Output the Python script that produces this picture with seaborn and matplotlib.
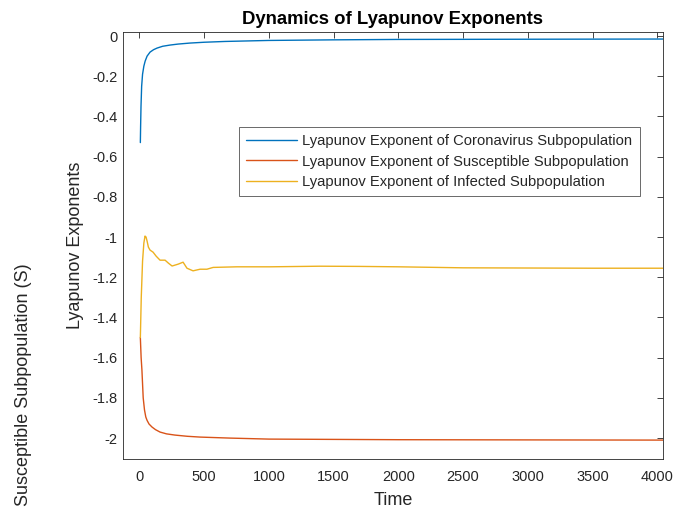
import numpy as np
import pandas as pd
import matplotlib
matplotlib.use("Agg")
import matplotlib.pyplot as plt
import seaborn as sns

# ---- data ----
corona_t = [8, 10, 13, 18, 25, 35, 45, 60, 83, 110, 137, 180, 237, 300, 392, 500, 663,
            1000, 1500, 2000, 3000, 4050]
corona_v = [-0.53, -0.45, -0.35, -0.25, -0.19, -0.15, -0.125, -0.10, -0.08, -0.068,
            -0.06, -0.051, -0.045, -0.04, -0.035, -0.031, -0.027, -0.022, -0.019,
            -0.017, -0.016, -0.015]

suscept_t = [8, 14, 20, 30, 40, 50, 60, 75, 98, 125, 160, 210, 275, 370, 470, 700, 1000,
             2000, 3000, 4050]
suscept_v = [-1.50, -1.60, -1.66, -1.80, -1.86, -1.895, -1.912, -1.93, -1.945, -1.958,
             -1.97, -1.979, -1.985, -1.991, -1.995, -2.0, -2.005, -2.008, -2.009, -2.01]

infect_t = [8, 15, 25, 35, 44, 52, 60, 70, 83, 106, 130, 160, 199, 225, 253, 299, 338,
            368, 415, 469, 522, 570, 755, 1010, 1396, 1700, 2000, 2500, 3000, 3500, 4050]
infect_v = [-1.50, -1.30, -1.12, -1.03, -0.995, -1.0, -1.02, -1.05, -1.065, -1.075,
            -1.095, -1.115, -1.115, -1.13, -1.144, -1.135, -1.125, -1.155, -1.168,
            -1.16, -1.16, -1.151, -1.148, -1.148, -1.145, -1.146, -1.148, -1.153,
            -1.154, -1.155, -1.155]

labels = ["Lyapunov Exponent of Coronavirus Subpopulation",
          "Lyapunov Exponent of Susceptible Subpopulation",
          "Lyapunov Exponent of Infected Subpopulation"]
colors = ["#0072BD", "#D95319", "#EDB120"]

xticks = [0, 500, 1000, 1500, 2000, 2500, 3000, 3500, 4000]
yticks = [0, -0.2, -0.4, -0.6, -0.8, -1, -1.2, -1.4, -1.6, -1.8, -2]
yticklabels = ["0", "-0.2", "-0.4", "-0.6", "-0.8", "-1", "-1.2", "-1.4", "-1.6", "-1.8", "-2"]

df = pd.concat([
    pd.DataFrame({"Time": corona_t, "Value": corona_v, "Series": labels[0]}),
    pd.DataFrame({"Time": suscept_t, "Value": suscept_v, "Series": labels[1]}),
    pd.DataFrame({"Time": infect_t, "Value": infect_v, "Series": labels[2]}),
], ignore_index=True)

sns.set_style("white")
plt.rcParams["font.family"] = ["Liberation Sans", "DejaVu Sans"]
plt.rcParams["axes.unicode_minus"] = False

fig = plt.figure(figsize=(6.85, 5.11), dpi=100)
ax = fig.add_axes([123 / 685, 1 - 459 / 511, 540 / 685, 427 / 511])

sns.lineplot(data=df, x="Time", y="Value", hue="Series", hue_order=labels,
             palette=colors, linewidth=1.0, ax=ax, sort=False, estimator=None)

ax.set_xlim(-126, 4044)
ax.set_ylim(-2.104, 0.02)
ax.set_xticks(xticks)
ax.set_xticklabels([str(v) for v in xticks])
ax.set_yticks(yticks)
ax.set_yticklabels(yticklabels)

dark = "#262626"
for s in ax.spines.values():
    s.set_visible(True)
    s.set_color(dark)
    s.set_linewidth(0.6)
ax.tick_params(direction="in", length=4, width=0.6, colors=dark, labelsize=10.5,
               top=True, right=True, labelcolor=dark)
ax.tick_params(axis="x", pad=8)
ax.tick_params(axis="y", pad=4)

ax.set_title("Dynamics of Lyapunov Exponents", fontsize=13.3, fontweight="bold",
             color="black", pad=6)
ax.set_xlabel("Time", fontsize=13, color=dark, labelpad=6)
ax.set_ylabel("Lyapunov Exponents", fontsize=13, color=dark, labelpad=6)

leg = ax.legend(loc="upper left", bbox_to_anchor=(0.215, 0.7775), borderaxespad=0,
                frameon=True, fancybox=False, fontsize=10.6, handlelength=3.4,
                labelspacing=0.42, borderpad=0.5, handletextpad=0.4)
leg.get_frame().set_edgecolor(dark)
leg.get_frame().set_linewidth(0.6)
for line in leg.get_lines():
    line.set_linewidth(1.0)

fig.text(24 / 685, 1 - 263 / 511, "Susceptible Subpopulation (S)", rotation=90,
         ha="center", va="top", fontsize=13, color=dark)

fig.savefig("out.png", dpi=100)
